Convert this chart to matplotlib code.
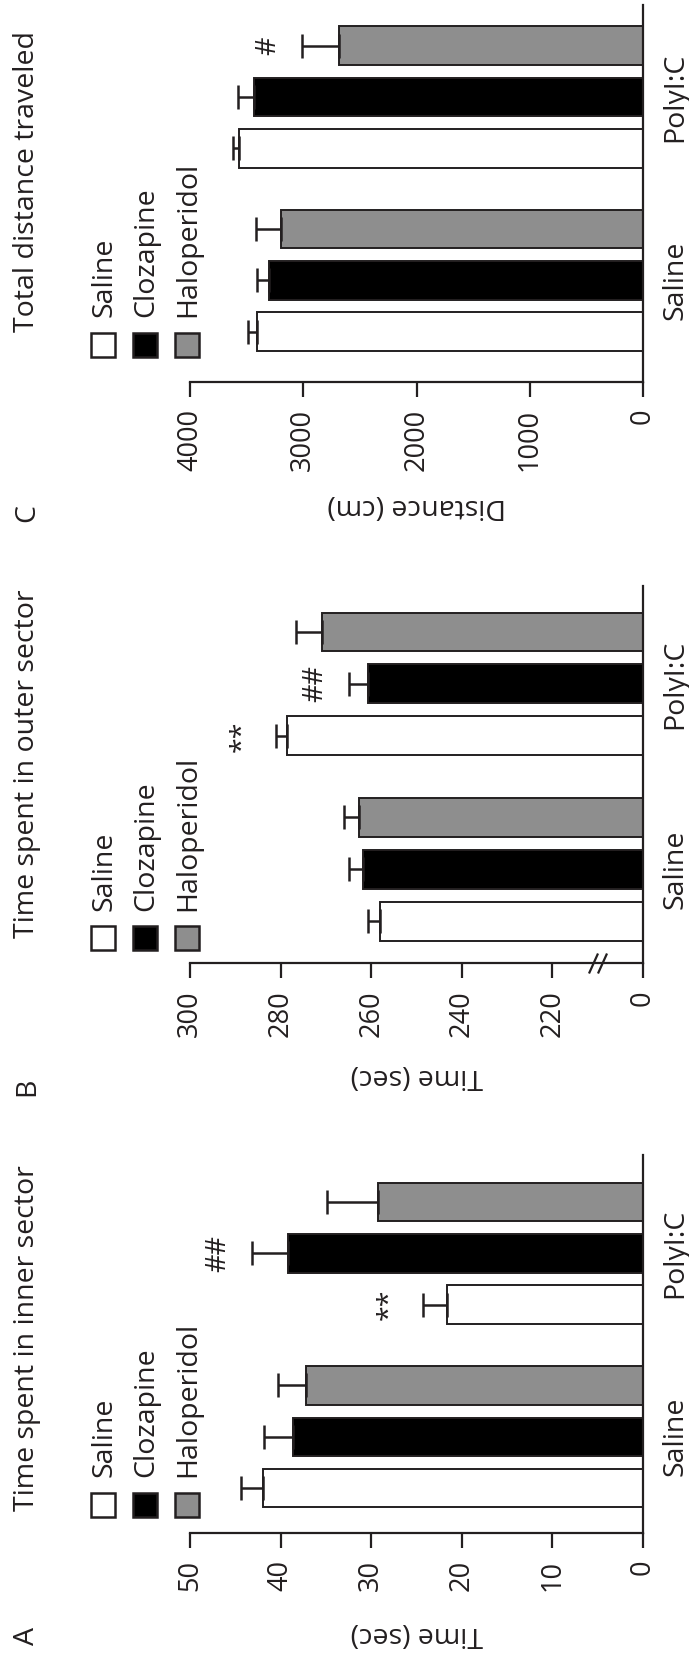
import numpy as np
import matplotlib.pyplot as plt
from matplotlib.patches import Rectangle

plt.rcParams['font.family'] = ['Open Sans', 'DejaVu Sans']

W, H = 689, 1660
ink = '#231f20'

groups = ['Saline', 'PolyI:C']
treatments = ['Saline', 'Clozapine', 'Haloperidol']
colors = ['white', 'black', '#8e8e8e']

# values per group (Saline, PolyI:C) x treatment (Saline, Clozapine, Haloperidol)
inner_mean = [[41.9, 38.6, 37.2], [21.6, 39.2, 29.2]]
inner_err = [[2.5, 3.2, 3.1], [2.7, 4.0, 5.7]]
inner_sig = [['', '', ''], ['**', '##', '']]

outer_mean = [[258.1, 261.7, 262.8], [278.5, 260.8, 270.9]]
outer_err = [[2.7, 3.2, 3.2], [2.6, 4.1, 5.6]]
outer_sig = [['', '', ''], ['**', '##', '']]

dist_mean = [[3410, 3302, 3197], [3566, 3438, 2680]]
dist_err = [[78, 108, 217], [58, 140, 331]]
dist_sig = [['', '', ''], ['', '', '#']]

inner_ticks = [50, 40, 30, 20, 10, 0]
outer_ticks = [300, 280, 260, 240, 220, 200]
outer_ticklabels = ['300', '280', '260', '240', '220', '0']
dist_ticks = [4000, 3000, 2000, 1000, 0]

fs = 20.5
tick_fs = 19.5


def fx(x):
    return x / W


def fy(y):
    return 1 - y / H


fig = plt.figure(figsize=(W / 100, H / 100), dpi=100)

panels = [
    dict(mean=inner_mean, err=inner_err, sig=inner_sig, ticks=inner_ticks,
         labels=[str(t) for t in inner_ticks], base=0, lim=(50, 0),
         title='Time spent in inner sector', ylabel='Time (sec)', letter='A',
         top=1155.4, bottom=1533, ylim=(-0.524, 1.533), title_y=1510.7,
         leg_top=1492.7, leg_text=1476.8, letter_y=1635.7, ylabel_y=1634),
    dict(mean=outer_mean, err=outer_err, sig=outer_sig, ticks=outer_ticks,
         labels=outer_ticklabels, base=200, lim=(300, 200),
         title='Time spent in outer sector', ylabel='Time (sec)', letter='B',
         top=586.4, bottom=963.2, ylim=(-0.506, 1.526), title_y=938.2,
         leg_top=925.7, leg_text=911.4, letter_y=1086.4, ylabel_y=1075.7),
    dict(mean=dist_mean, err=dist_err, sig=dist_sig, ticks=dist_ticks,
         labels=[str(t) for t in dist_ticks], base=0, lim=(4000, 0),
         title='Total distance traveled', ylabel='Distance (cm)', letter='C',
         top=5.2, bottom=381.6, ylim=(-0.553, 1.501), title_y=332.3,
         leg_top=333.4, leg_text=316.8, letter_y=513.1, ylabel_y=506.3),
]

ax_left, ax_right = 190, 643
offset = 0.28
bar_h = 0.21

for p in panels:
    ax = fig.add_axes([fx(ax_left), fy(p['bottom']), (ax_right - ax_left) / W,
                       (p['bottom'] - p['top']) / H])
    mean = np.array(p['mean'], dtype=float)
    err = np.array(p['err'], dtype=float)
    for g in range(len(groups)):
        for t in range(len(treatments)):
            y = g + (t - 1) * offset
            ax.barh(y, mean[g, t] - p['base'], left=p['base'], height=bar_h,
                    color=colors[t], edgecolor=ink, linewidth=1.4, zorder=2)
            ax.errorbar(mean[g, t], y, xerr=[[0], [err[g, t]]], fmt='none',
                        ecolor=ink, elinewidth=1.8, capsize=8.6, capthick=1.8,
                        zorder=3)
            if p['sig'][g][t]:
                ax.annotate(p['sig'][g][t], xy=(mean[g, t] + err[g, t], y),
                            xytext=(-24, 0), textcoords='offset points',
                            rotation=90, ha='center', va='center',
                            fontsize=fs, color=ink)

    ax.set_xlim(*p['lim'])
    ax.set_ylim(*p['ylim'])
    for s in ['top', 'left']:
        ax.spines[s].set_visible(False)
    for s in ['bottom', 'right']:
        ax.spines[s].set_linewidth(1.6)
        ax.spines[s].set_color(ink)

    ax.set_xticks(p['ticks'])
    ax.set_xticklabels(p['labels'], rotation=90)
    ax.tick_params(axis='x', direction='out', length=10.8, width=1.6,
                   pad=8.6, labelsize=tick_fs, colors=ink)
    ax.yaxis.tick_right()
    ax.set_yticks(range(len(groups)))
    ax.set_yticklabels(groups, rotation=90, va='center')
    ax.tick_params(axis='y', length=0, pad=13, labelsize=fs, colors=ink)

    if p['base'] == 200:
        # axis break marks
        ax.plot([211, 209], [0, 0], transform=ax.get_xaxis_transform(),
                ls='none', marker=[(-0.45, -1), (0.45, 1)], markersize=14.4,
                mec=ink, mew=1.6, clip_on=False, zorder=5)

    # legend
    for t in range(len(treatments)):
        x0 = 90.7 + 42 * t
        fig.add_artist(Rectangle((fx(x0), fy(p['leg_top'] + 24)), 24 / W, 24 / H,
                                 transform=fig.transFigure, facecolor=colors[t],
                                 edgecolor=ink, linewidth=1.8))
        fig.text(fx(x0), fy(p['leg_text']), treatments[t], rotation=90,
                 ha='left', va='bottom', fontsize=fs, color=ink)

    fig.text(fx(13), fy(p['title_y']), p['title'], rotation=90,
             ha='left', va='bottom', fontsize=fs, color=ink)
    fig.text(fx(13), fy(p['letter_y']), p['letter'], rotation=90,
             ha='left', va='center', fontsize=fs, color=ink)
    fig.text(fx((ax_left + ax_right) / 2), fy(p['ylabel_y']), p['ylabel'],
             rotation=180, ha='center', va='center', fontsize=fs, color=ink)

fig.savefig('out.png', dpi=100)
